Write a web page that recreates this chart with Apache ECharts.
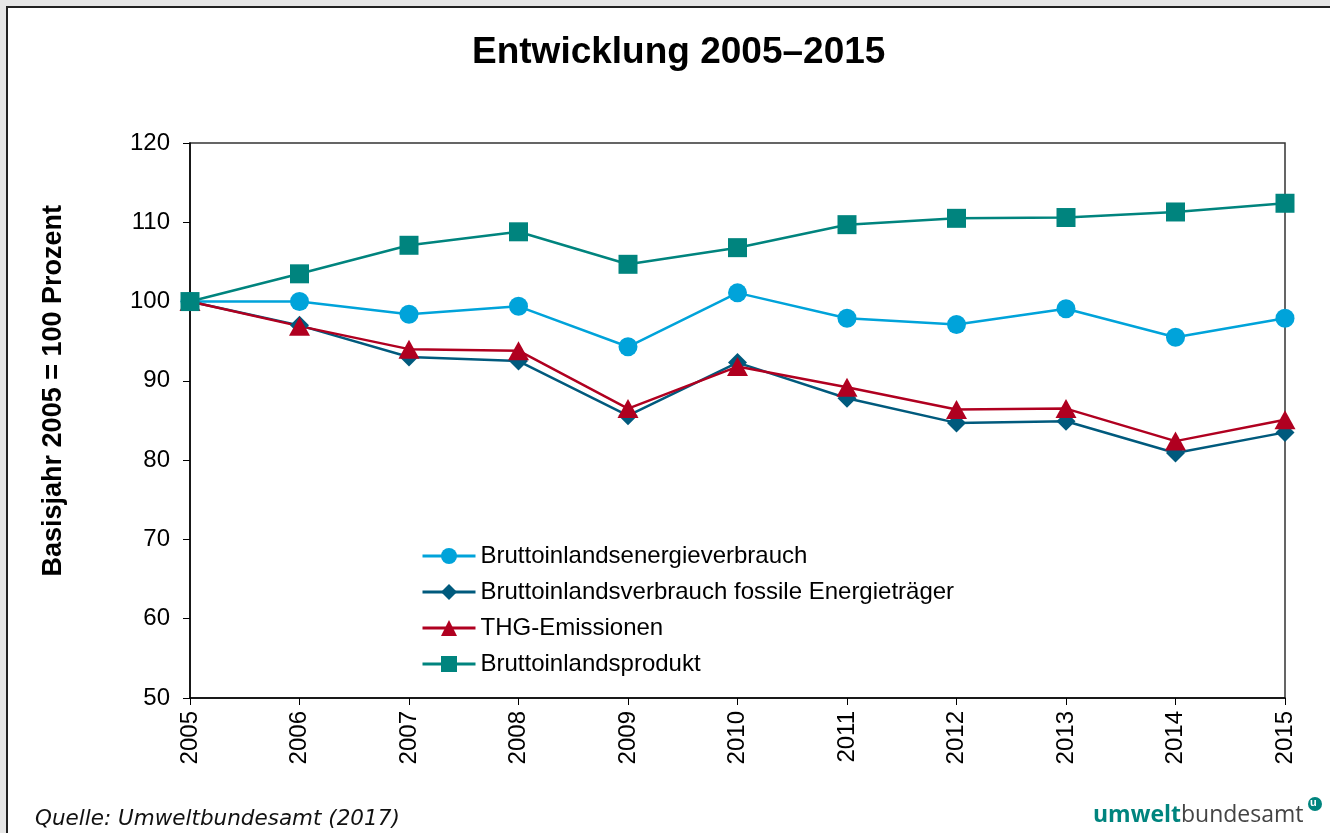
<!DOCTYPE html>
<html>
<head>
<meta charset="utf-8">
<script src="https://cdn.jsdelivr.net/npm/echarts@6/dist/echarts.min.js"></script>
<style>
html,body{margin:0;padding:0;background:#e6e6e6;}
#chart{width:1330px;height:833px;}
</style>
</head>
<body>
<div id="chart"></div>
<script>
// Jahre (x-Achse)
var years = ['2005','2006','2007','2008','2009','2010','2011','2012','2013','2014','2015'];
// Werte, Basisjahr 2005 = 100
var energie = [100, 100, 98.4, 99.4, 94.3, 101.1, 97.9, 97.1, 99.1, 95.5, 97.9];
var fossil  = [100, 97.0, 93.0, 92.5, 85.6, 92.3, 87.8, 84.7, 84.9, 80.9, 83.5];
var thg     = [100, 96.9, 94.0, 93.8, 86.5, 91.8, 89.2, 86.4, 86.5, 82.4, 85.1];
var bip     = [100, 103.5, 107.1, 108.8, 104.7, 106.8, 109.7, 110.5, 110.6, 111.3, 112.4];
var names = ['Bruttoinlandsenergieverbrauch','Bruttoinlandsverbrauch fossile Energieträger','THG-Emissionen','Bruttoinlandsprodukt'];

var chart = echarts.init(document.getElementById('chart'));
var font = 'Liberation Sans, Arial, sans-serif';

function line(name, data, color, symbol, size){
    return {
        name: name,
        type: 'line',
        data: data,
        symbol: symbol,
        symbolSize: size,
        showAllSymbol: true,
        lineStyle: {color: color, width: 2.5},
        itemStyle: {color: color},
        emphasis: {disabled: true}
    };
}

chart.setOption({
    backgroundColor: '#e6e6e6',
    animation: false,
    title: {
        text: 'Entwicklung 2005–2015',
        left: 467, top: 29,
        textStyle: {fontFamily: font, fontSize: 37, fontWeight: 'bold', color: '#000'}
    },
    graphic: [
        {type: 'rect', z: -10, shape: {x: 7, y: 7, width: 1400, height: 900},
         style: {fill: '#fff', stroke: '#222', lineWidth: 2}},
        {type: 'text', left: 40, top: 205, rotation: Math.PI / 2,
         style: {text: 'Basisjahr 2005 = 100 Prozent', font: 'bold 27px ' + font, fill: '#000'}},
        {type: 'text', left: 35, top: 808,
         style: {text: 'Quelle: Umweltbundesamt (2017)', font: 'italic 21.5px DejaVu Sans, Verdana, sans-serif', fill: '#111'}},
        {type: 'text', left: 1093, top: 804,
         style: {text: '{a|umwelt}{b|bundesamt}', rich: {
             a: {font: 'bold 23px Open Sans, sans-serif', fill: '#00847e'},
             b: {font: '23px Open Sans, sans-serif', fill: '#444'}
         }}},
        {type: 'circle', shape: {cx: 1315, cy: 804, r: 7}, style: {fill: '#00847e'}},
        {type: 'text', left: 1310, top: 797,
         style: {text: 'u', font: 'bold 11px ' + font, fill: '#fff'}}
    ],
    legend: {
        orient: 'vertical',
        left: 421, top: 544, padding: 0,
        itemWidth: 53, itemHeight: 20, itemGap: 12,
        lineStyle: {width: 3},
        textStyle: {fontFamily: font, fontSize: 24, color: '#000'},
        data: names
    },
    grid: {
        left: 190, right: 45, top: 143, bottom: 135,
        show: true, borderColor: '#333', borderWidth: 1.5, backgroundColor: 'transparent'
    },
    xAxis: {
        type: 'category',
        data: years,
        boundaryGap: false,
        axisLine: {lineStyle: {color: '#000', width: 1.5}},
        axisTick: {show: true, length: 7, lineStyle: {color: '#000'}},
        axisLabel: {rotate: 90, margin: 13, fontFamily: font, fontSize: 24, color: '#000'}
    },
    yAxis: {
        type: 'value',
        min: 50, max: 120, interval: 10,
        axisLine: {show: true, lineStyle: {color: '#000', width: 1.5}},
        axisTick: {show: true, length: 7, lineStyle: {color: '#000'}},
        splitLine: {show: false},
        axisLabel: {margin: 20, fontFamily: font, fontSize: 24, color: '#000'}
    },
    series: [
        line(names[0], energie, '#00a3da', 'circle', 19),
        line(names[1], fossil, '#005a7d', 'diamond', 19),
        line(names[2], thg, '#b00020', 'triangle', [21, 19]),
        line(names[3], bip, '#00847e', 'rect', 19)
    ]
});
</script>
</body>
</html>
